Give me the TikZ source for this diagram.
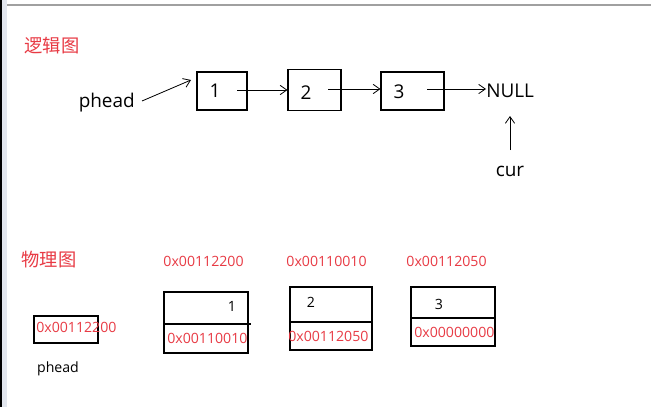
\documentclass[tikz,border=0pt]{standalone}
\usepackage{fontspec}
\setmainfont{Open Sans}
\newfontfamily\cjk{Noto Sans CJK SC}
\usetikzlibrary{arrows.meta}
\definecolor{labred}{RGB}{232,58,68}
\definecolor{topgray}{RGB}{160,160,160}
\definecolor{sidebar}{RGB}{226,230,238}
\tikzset{
  big/.style={font=\fontsize{14.2}{16}\selectfont, inner sep=0pt},
  small/.style={font=\fontsize{10.6}{12}\selectfont, inner sep=0pt},
  addr/.style={small, text=labred},
  title/.style={text=labred, inner sep=0pt, font=\cjk\fontsize{13.7}{15}\selectfont},
  lbox/.style={draw, line width=0.8pt, inner sep=0pt},
  pbox/.style={draw, line width=0.8pt, inner sep=0pt},
  link/.style={line width=0.6pt, -{Straight Barb[length=5pt,width=7pt]}},
}
\begin{document}
\begin{tikzpicture}[x=0.75pt,y=-0.75pt]
\useasboundingbox (0,0) rectangle (651,407);
\fill[white] (0,0) rectangle (651,407);
\fill[black] (0,0) rectangle (2,407);
\fill[sidebar] (2,0) rectangle (7,407);
\draw[topgray, line width=1.5pt] (7,5) -- (651,5);

% ---- logical diagram ----
\node[title] (t1) at (52,46) {逻辑图};
\node[lbox, minimum width=50*0.75pt, minimum height=38*0.75pt] (b1) at (222,91) {};
\node[lbox, minimum width=53*0.75pt, minimum height=41*0.75pt] (b2) at (314.5,90) {};
\node[lbox, minimum width=63*0.75pt, minimum height=38*0.75pt] (b3) at (412.5,91) {};
\node[big] (n1) at (215,91) {1};
\node[big] (n2) at (306,93) {2};
\node[big] (n3) at (399,92) {3};
\node[big, anchor=west] (null) at (486,91) {NULL};
\node[big, anchor=east] (ph) at (135,103) {phead};
\node[big] (cur) at (510,171) {cur};

\coordinate (phend) at (191,80);
\coordinate (s1) at (237,90);
\coordinate (s2) at (328,89);
\coordinate (s3) at (427,89);
\coordinate (curend) at (510,116);
\coordinate (curstart) at (510,150);

\draw[link] (ph.east) ++(7,-2) -- (phend);
\draw[link] (s1) -- (b2.west |- s1);
\draw[link] (s2) -- (b3.west |- s2);
\draw[link] (s3) -- (null.west |- s3);
\draw[link] (curstart) -- (curend);

% ---- physical diagram ----
\node[title] (t2) at (49,260) {物理图};
\node[addr] (a1) at (203.5,261) {0x00112200};
\node[addr] (a2) at (326.5,261) {0x00110010};
\node[addr] (a3) at (446.5,261) {0x00112050};

% phead box
\node[pbox, minimum width=64*0.75pt, minimum height=27*0.75pt] (pb) at (66,329.5) {};
\node[addr, anchor=west] (pa) at (36,327) {0x00112200};
\node[small] (pl) at (58,369) {phead};

% node boxes
\node[pbox, minimum width=84*0.75pt, minimum height=61*0.75pt] (m1) at (206,322.5) {};
\draw[line width=0.8pt] (164,324) -- (251,324);
\node[small] (m1v) at (232,306) {1};
\node[addr, anchor=west] (m1a) at (167,338) {0x00110010};

\node[pbox, minimum width=82*0.75pt, minimum height=63*0.75pt] (m2) at (331,318.5) {};
\draw[line width=0.8pt] (m2.west |- 0,322) -- (m2.east |- 0,322);
\node[small] (m2v) at (311,302) {2};
\node[addr, anchor=west] (m2a) at (288,336) {0x00112050};

\node[pbox, minimum width=84*0.75pt, minimum height=59*0.75pt] (m3) at (453,316.5) {};
\draw[line width=0.8pt] (m3.west |- 0,318) -- (m3.east |- 0,318);
\node[small] (m3v) at (439,304) {3};
\node[addr, anchor=west] (m3a) at (414,332) {0x00000000};
\end{tikzpicture}
\end{document}
